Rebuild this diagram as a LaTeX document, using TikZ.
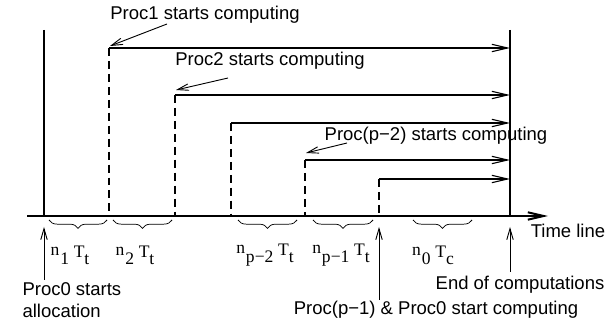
\documentclass[tikz,border=0pt]{standalone}
\usepackage{fontspec}
\setmainfont{Liberation Sans}
\newfontfamily\timesfont{Liberation Serif}
\usetikzlibrary{arrows.meta, decorations.pathreplacing}

% n_i T_x label as the picture sets it
\newcommand{\cost}[2]{{\timesfont\fontsize{9.5}{10}\selectfont
	\raisebox{1.1ex}{n}\kern0.5pt#1\kern2.5pt\raisebox{0.9ex}{T}#2}}

\begin{document}
\begin{tikzpicture}[x=0.019cm, y=-0.019cm,
	thick line/.style = {line width = 1.1pt},
	run line/.style = {line width = 0.6pt, -{Straight Barb[length=8.5pt, width=4pt]}},
	wait line/.style = {line width = 1.1pt, dash pattern = on 4.3pt off 2.7pt},
	note line/.style = {line width = 0.5pt, -{Straight Barb[length=6pt, width=3.5pt]}},
	bracket/.style = {line width = 0.4pt, decorate,
		decoration = {brace, mirror, amplitude = 4.5pt}}]
	\useasboundingbox (0,0) rectangle (616,329);

	\def\axisy{216};

	\coordinate (axis start) at (27,\axisy);
	\coordinate (axis end) at (548,\axisy);
	\coordinate (alloc top) at (44,30);
	\coordinate (alloc bot) at (44,\axisy);
	\coordinate (done top) at (510,30);
	\coordinate (done bot) at (510,\axisy);

	\draw [thick line, -{Straight Barb[length=8.5pt, width=4pt]}] (axis start) -- (axis end);
	\draw [thick line] (alloc top) -- (alloc bot);
	\draw [thick line] (done top) -- (done bot);

	% one processor per step
	\foreach \x/\y [count = \i] in {109/48, 175/95, 231/123, 305/160, 379/179} {
		\coordinate (proc\i top) at (\x,\y);
		\coordinate (proc\i bot) at (\x,\axisy);
		\coordinate (proc\i end) at (510,\y);
		\draw [wait line] (proc\i top) -- (proc\i bot);
		\draw [run line] (proc\i top) -- (proc\i end);
	}

	% transfer and compute times
	\foreach \a/\b/\c/\t in {49/107/70/{\cost{1}{t}}, 113/172/135/{\cost{2}{t}},
		238/297/265/{\cost{p−2}{t}}, 313/373/341/{\cost{p−1}{t}}, 413/472/433/{\cost{0}{c}}} {
		\draw [bracket] (\a,220) -- (\b,220);
		\node (time\a) at (\c,255) {\t};
	}

	\node (start1) at (205,15) {Proc1 starts computing};
	\node (start2) at (270,61) {Proc2 starts computing};
	\node (start3) at (436,136) {Proc(p−2) starts computing};
	\node [align = left, anchor = west] (alloc) at (16,300)
		{\fontsize{10}{9.7}\selectfont Proc0 starts\\allocation};
	\node (last) at (436,310) {Proc(p−1) \& Proc0 start computing};
	\node (done) at (520,285) {End of computations};
	\node (timeline) at (568,231) {Time line};

	\coordinate (tail1) at (167,24);
	\coordinate (tip1) at (110,46);
	\coordinate (tail2) at (228,78);
	\coordinate (tip2) at (176,90);
	\coordinate (tail3) at (347,143);
	\coordinate (tip3) at (306,153);
	\coordinate (tail4) at (44,280);
	\coordinate (tip4) at (44,227);
	\coordinate (tail5) at (379,300);
	\coordinate (tip5) at (379,227);
	\coordinate (tail6) at (510,272);
	\coordinate (tip6) at (510,227);

	\begin{scope}[note line]
		\draw (tail1) -- (tip1);
		\draw (tail2) -- (tip2);
		\draw (tail3) -- (tip3);
		\draw (tail4) -- (tip4);
		\draw (tail5) -- (tip5);
		\draw (tail6) -- (tip6);
	\end{scope}
\end{tikzpicture}
\end{document}
